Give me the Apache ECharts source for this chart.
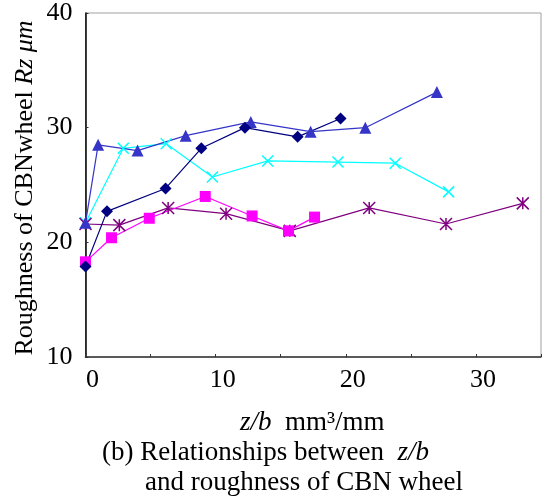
<!DOCTYPE html>
<html>
<head>
<meta charset="utf-8">
<script src="https://cdn.jsdelivr.net/npm/echarts@6/dist/echarts.min.js"></script>
<style>html,body{margin:0;padding:0;background:#fff}#c{width:544px;height:497px}</style>
</head>
<body>
<div id="c"></div>
<script>
var navyX = [0, 1.65, 6.15, 8.9, 12.25, 16.3, 19.6];
var navyY = [17.9, 22.7, 24.7, 28.2, 30.0, 29.2, 30.8];
var blueX = [0, 0.97, 4.0, 7.7, 12.7, 17.3, 21.5, 27.0];
var blueY = [21.7, 28.5, 28.0, 29.3, 30.5, 29.65, 30.0, 33.1];
var cyanX = [0, 2.9, 6.2, 9.75, 14.0, 19.4, 23.8, 27.9];
var cyanY = [21.7, 28.2, 28.6, 25.7, 27.1, 27.0, 26.9, 24.4];
var magX = [0, 2.0, 4.9, 9.2, 12.8, 15.6, 17.6];
var magY = [18.3, 20.4, 22.1, 24.0, 22.3, 21.0, 22.2];
var purX = [0, 2.6, 6.35, 10.8, 15.7, 21.8, 27.7, 33.6];
var purY = [21.6, 21.5, 23.0, 22.5, 21.0, 23.0, 21.6, 23.4];

var xTicks = [0, 10, 20, 30];
var yTicks = [10, 20, 30, 40];

function pairs(xs, ys) { return xs.map(function (x, i) { return [x, ys[i]]; }); }

var FONT = '"Liberation Serif", "Times New Roman", serif';
var xPath = 'path://M0,0L10,10M10,0L0,10';
var starPath = 'path://M5,0L5,10M0,0L10,10M10,0L0,10';

function mk(name, xs, ys, color, symbol, size, stroke) {
  return {
    name: name, type: 'line', data: pairs(xs, ys), clip: false,
    symbol: symbol, symbolSize: size, showAllSymbol: true,
    lineStyle: { color: color, width: 1.2 },
    itemStyle: stroke ? { color: 'rgba(0,0,0,0)', borderColor: color, borderWidth: 1.5 } : { color: color, borderWidth: 0 },
    emphasis: { disabled: true }, animation: false
  };
}

var chart = echarts.init(document.getElementById('c'), null, { renderer: 'canvas' });
chart.setOption({
  animation: false,
  grid: { left: 85.5, top: 12.7, right: -3.5, bottom: 140, show: true, borderColor: '#a0a0a0', borderWidth: 1, backgroundColor: 'transparent' },
  xAxis: {
    type: 'value', min: 0, max: 35, interval: 5,
    axisLine: { show: true, onZero: false, lineStyle: { color: '#333', width: 1.5 } },
    axisTick: { show: true, inside: true, length: 3, lineStyle: { color: '#333' } },
    splitLine: { show: false },
    axisLabel: {
      fontFamily: FONT, fontSize: 26, color: '#000', margin: 10, padding: [0, 0, 0, 14],
      formatter: function (v) { return xTicks.indexOf(v) >= 0 ? String(v) : ''; }
    }
  },
  yAxis: {
    type: 'value', min: 10, max: 40, interval: 10,
    axisLine: { show: true, lineStyle: { color: '#000', width: 1.5 } },
    axisTick: { show: true, inside: true, length: 3, lineStyle: { color: '#333' } },
    splitLine: { show: false },
    axisLabel: {
      fontFamily: FONT, fontSize: 26, color: '#000', margin: 13, padding: [6, 0, 0, 0],
      formatter: function (v) { return yTicks.indexOf(v) >= 0 ? String(v) : ''; }
    }
  },
  series: [
    mk('cyan', cyanX, cyanY, '#00ffff', xPath, 11, true),
    mk('purple', purX, purY, '#800080', starPath, 12, true),
    mk('magenta', magX, magY, '#ff00ff', 'rect', 11, false),
    mk('blue', blueX, blueY, '#3535c8', 'triangle', 12, false),
    mk('navy', navyX, navyY, '#000080', 'diamond', 12, false)
  ],
  graphic: [
    {
      type: 'text', x: 25, y: 188, rotation: Math.PI / 2, silent: true,
      style: {
        text: 'Roughness of CBNwheel {i|Rz μm}',
        font: '26px ' + FONT, fill: '#000', align: 'center', verticalAlign: 'middle',
        rich: { i: { fontFamily: FONT, fontSize: 26, fontStyle: 'italic', fill: '#000' } }
      }
    },
    {
      type: 'text', x: 240, y: 423, silent: true,
      style: {
        text: '{i|z/b}  mm³/mm',
        font: '27px ' + FONT, fill: '#000', align: 'left', verticalAlign: 'middle',
        rich: { i: { fontFamily: FONT, fontSize: 27, fontStyle: 'italic', fill: '#000' } }
      }
    },
    {
      type: 'text', x: 102, y: 453, silent: true,
      style: {
        text: '(b) Relationships between  {i|z/b}',
        font: '27px ' + FONT, fill: '#000', align: 'left', verticalAlign: 'middle',
        rich: { i: { fontFamily: FONT, fontSize: 27, fontStyle: 'italic', fill: '#000' } }
      }
    },
    {
      type: 'text', x: 145, y: 483, silent: true,
      style: {
        text: 'and roughness of CBN wheel',
        font: '27px ' + FONT, fill: '#000', align: 'left', verticalAlign: 'middle'
      }
    }
  ]
});
</script>
</body>
</html>
